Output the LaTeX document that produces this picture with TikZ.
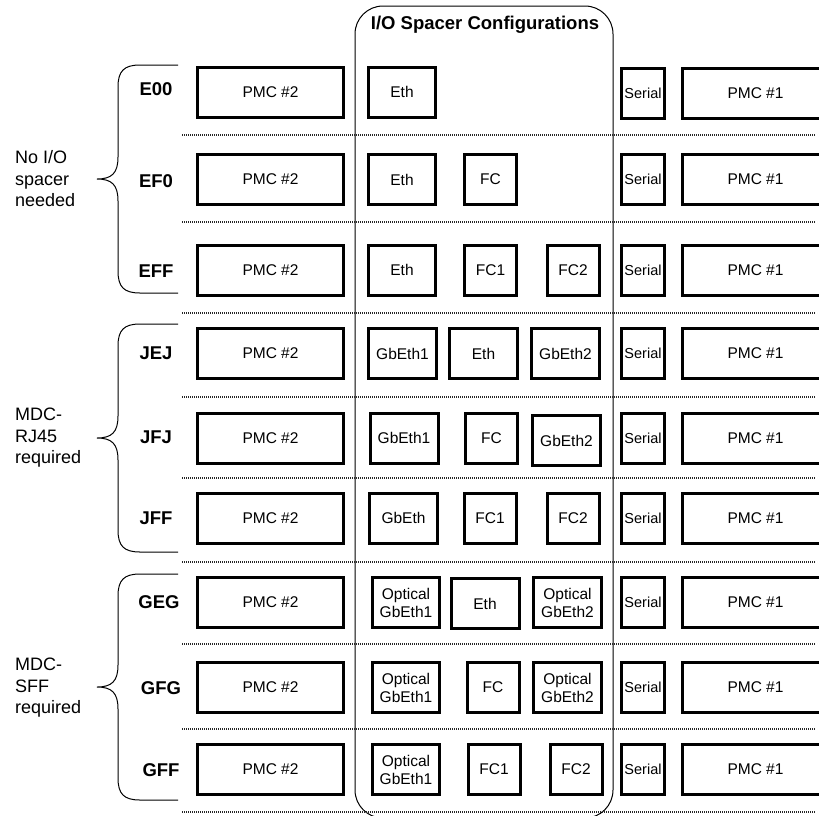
\documentclass[tikz,border=0pt]{standalone}
\usepackage{fontspec}
\setmainfont{Liberation Sans}
\usetikzlibrary{positioning}
\newcommand{\boxfont}{\fontsize{15.5}{18}\selectfont}
\newcommand{\serialfont}{\fontsize{14.5}{17}\selectfont}
\newcommand{\codefont}{\fontsize{18.5}{21}\selectfont\bfseries}
\newcommand{\groupfont}{\fontsize{18}{21.5}\selectfont}

\begin{document}
\begin{tikzpicture}[
        x=1pt, y=-1pt,
        every node/.style={align=center, font=\boxfont, inner sep=0pt},
        box/.style={draw, line width=3pt, minimum height=50pt},
        pmc/.style={box, minimum width=146pt},
        eth/.style={box, minimum width=67pt},
        fc/.style={box, minimum width=52pt},
        gbeth/.style={box, minimum width=68pt},
        serial/.style={box, minimum width=43pt, font=\serialfont},
        code/.style={font=\codefont},
        group/.style={font=\groupfont, align=left, anchor=west},
        title/.style={font=\codefont},
        brace/.style={line width=1pt},
        sep/.style={line width=2.2pt, black!85, dash pattern=on 1.2pt off 0.8pt},
        frame/.style={line width=1pt, rounded corners=28pt}
    ]
        \clip (0,0) rectangle (819,815);

        % spacer column
        \draw[frame] (355,6) rectangle (613,818);
        \node[title] (cfgtitle) at (485,25) {I/O Spacer Configurations};

        % row separators
        \draw[sep] (182,135) -- (815,135);
        \draw[sep] (182,222) -- (815,222);
        \draw[sep] (182,313) -- (815,313);
        \draw[sep] (182,397) -- (815,397);
        \draw[sep] (182,478) -- (815,478);
        \draw[sep] (182,562) -- (815,562);
        \draw[sep] (182,644) -- (815,644);
        \draw[sep] (182,729) -- (815,729);
        \draw[sep] (182,812) -- (815,812);

        % groups
        \draw[brace] (178,65) -- (140,65) .. controls (124,65) and (118,71) .. (118,87) -- (118,157)
            .. controls (118,173) and (112,179) .. (97,179) .. controls (112,179) and (118,185) .. (118,201)
            -- (118,271) .. controls (118,287) and (124,293) .. (140,293) -- (178,293);
        \draw[brace] (178,324) -- (140,324) .. controls (124,324) and (118,330) .. (118,346) -- (118,416)
            .. controls (118,432) and (112,438) .. (97,438) .. controls (112,438) and (118,444) .. (118,460)
            -- (118,530) .. controls (118,546) and (124,552) .. (140,552) -- (178,552);
        \draw[brace] (178,574) -- (140,574) .. controls (124,574) and (118,580) .. (118,596) -- (118,665)
            .. controls (118,681) and (112,687) .. (97,687) .. controls (112,687) and (118,693) .. (118,709)
            -- (118,778) .. controls (118,794) and (124,800) .. (140,800) -- (178,800);
        \node[group] (noio) at (15,179) {No I/O\\spacer\\needed};
        \node[group] (rj45) at (15,438) {MDC-\\RJ45\\required};
        \node[group] (sff) at (15,688) {MDC-\\SFF\\required};

        % E00
        \node[code] (r1code) at (156,89) {E00};
        \node[pmc] (r1pmc2) at (270.5,92) {PMC \#2};
        \node[eth] (r1eth) at (402,92) {Eth};
        \node[serial] (r1ser) at (643,93) {Serial};
        \node[pmc, right=15pt of r1ser] (r1pmc1) {PMC \#1};

        % EF0
        \node[code] (r2code) at (156,181) {EF0};
        \node[pmc] (r2pmc2) at (270.5,179.5) {PMC \#2};
        \node[eth] (r2eth) at (402,179.5) {Eth};
        \node[fc] (r2fc) at (490.5,179.5) {FC};
        \node[serial] (r2ser) at (643,179.5) {Serial};
        \node[pmc, right=15pt of r2ser] (r2pmc1) {PMC \#1};

        % EFF
        \node[code] (r3code) at (156,271) {EFF};
        \node[pmc] (r3pmc2) at (270.5,270) {PMC \#2};
        \node[eth] (r3eth) at (402,270) {Eth};
        \node[fc] (r3fc1) at (490.5,270) {FC1};
        \node[fc] (r3fc2) at (573,270) {FC2};
        \node[serial] (r3ser) at (643,270) {Serial};
        \node[pmc, right=15pt of r3ser] (r3pmc1) {PMC \#1};

        % JEJ
        \node[code] (r4code) at (156,353) {JEJ};
        \node[pmc] (r4pmc2) at (270.5,353.5) {PMC \#2};
        \node[gbeth] (r4gb1) at (402.5,353.5) {GbEth1};
        \node[gbeth] (r4eth) at (483.5,353.5) {Eth};
        \node[gbeth] (r4gb2) at (565.5,353.5) {GbEth2};
        \node[serial] (r4ser) at (643,353.5) {Serial};
        \node[pmc, right=15pt of r4ser] (r4pmc1) {PMC \#1};

        % JFJ
        \node[code] (r5code) at (156,437) {JFJ};
        \node[pmc] (r5pmc2) at (270.5,438) {PMC \#2};
        \node[gbeth] (r5gb1) at (404,438) {GbEth1};
        \node[fc] (r5fc) at (491.5,438) {FC};
        \node[gbeth] (r5gb2) at (566.5,440.5) {GbEth2};
        \node[serial] (r5ser) at (643,438) {Serial};
        \node[pmc, right=15pt of r5ser] (r5pmc1) {PMC \#1};

        % JFF
        \node[code] (r6code) at (156,518) {JFF};
        \node[pmc] (r6pmc2) at (270.5,518) {PMC \#2};
        \node[gbeth] (r6gb) at (403.5,518) {GbEth};
        \node[fc] (r6fc1) at (490,518) {FC1};
        \node[fc] (r6fc2) at (573,518) {FC2};
        \node[serial] (r6ser) at (643,518) {Serial};
        \node[pmc, right=15pt of r6ser] (r6pmc1) {PMC \#1};

        % GEG
        \node[code] (r7code) at (159,602) {GEG};
        \node[pmc] (r7pmc2) at (270.5,602.5) {PMC \#2};
        \node[eth] (r7gb1) at (406,602.5) {Optical\\GbEth1};
        \node[gbeth] (r7eth) at (485,603.5) {Eth};
        \node[gbeth] (r7gb2) at (567.5,602.5) {Optical\\GbEth2};
        \node[serial] (r7ser) at (643,602.5) {Serial};
        \node[pmc, right=15pt of r7ser] (r7pmc1) {PMC \#1};

        % GFG
        \node[code] (r8code) at (161,688) {GFG};
        \node[pmc] (r8pmc2) at (270.5,687.5) {PMC \#2};
        \node[eth] (r8gb1) at (406,687.5) {Optical\\GbEth1};
        \node[fc] (r8fc) at (493,687.5) {FC};
        \node[gbeth] (r8gb2) at (567.5,687.5) {Optical\\GbEth2};
        \node[serial] (r8ser) at (643,687.5) {Serial};
        \node[pmc, right=15pt of r8ser] (r8pmc1) {PMC \#1};

        % GFF
        \node[code] (r9code) at (161,770) {GFF};
        \node[pmc] (r9pmc2) at (270.5,769.5) {PMC \#2};
        \node[eth] (r9gb1) at (406,769.5) {Optical\\GbEth1};
        \node[fc] (r9fc1) at (494,769.5) {FC1};
        \node[fc] (r9fc2) at (576,769.5) {FC2};
        \node[serial] (r9ser) at (643,769.5) {Serial};
        \node[pmc, right=15pt of r9ser] (r9pmc1) {PMC \#1};
    \end{tikzpicture}
\end{document}
